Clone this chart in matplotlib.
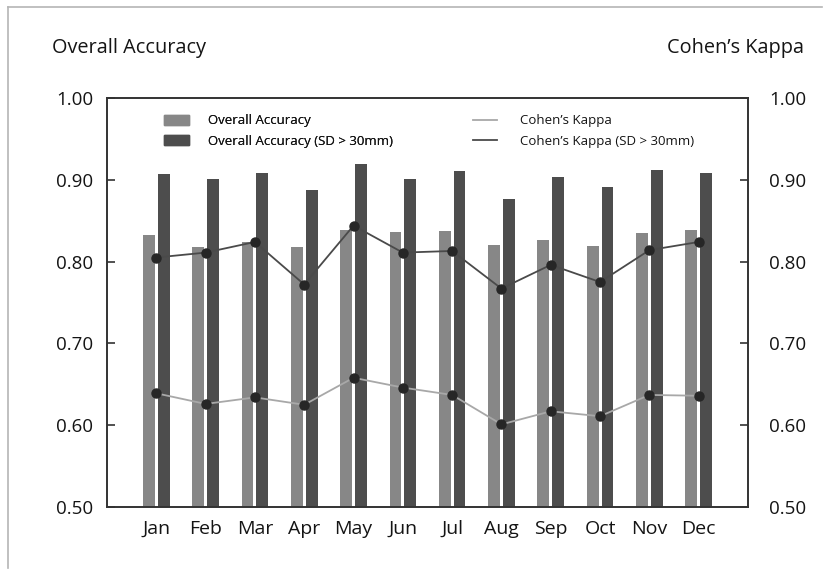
import matplotlib
matplotlib.use("Agg")
import matplotlib.pyplot as plt
from matplotlib.lines import Line2D
from matplotlib.patches import Patch
import numpy as np

plt.rcParams['font.family'] = ['Open Sans', 'DejaVu Sans']

months = ["Jan", "Feb", "Mar", "Apr", "May", "Jun",
          "Jul", "Aug", "Sep", "Oct", "Nov", "Dec"]
overall_acc = [0.832, 0.818, 0.824, 0.818, 0.839, 0.836,
               0.838, 0.820, 0.826, 0.819, 0.835, 0.839]
overall_acc_sd = [0.907, 0.901, 0.908, 0.888, 0.919, 0.901,
                  0.911, 0.877, 0.903, 0.891, 0.912, 0.908]
kappa = [0.639, 0.626, 0.634, 0.625, 0.658, 0.646,
         0.637, 0.601, 0.617, 0.611, 0.637, 0.636]
kappa_sd = [0.805, 0.811, 0.824, 0.772, 0.844, 0.811,
            0.813, 0.767, 0.796, 0.775, 0.814, 0.824]
y_ticks = [0.50, 0.60, 0.70, 0.80, 0.90, 1.00]

c_light_bar = "#878787"
c_dark_bar = "#4d4d4d"
c_light_line = "#a8a8a8"
c_dark_line = "#4a4a4a"
c_marker = "#262626"
c_spine = "#333333"
c_text = "#141414"

fig = plt.figure(figsize=(8.3, 5.7), dpi=100)
ax = fig.add_axes([0.1289, 0.1105, 0.7723, 0.7176])

x = np.arange(len(months))
w = 0.24
ax.bar(x - 0.15, overall_acc, width=w, color=c_light_bar, zorder=2)
ax.bar(x + 0.15, overall_acc_sd, width=w, color=c_dark_bar, zorder=2)

ax.set_xlim(-1.0, 12.0)
ax.set_ylim(0.5, 1.0)
ax.set_yticks(y_ticks)
ax.set_yticklabels([f"{v:.2f}" for v in y_ticks])
ax.set_xticks(x)
ax.set_xticklabels(months)
ax.tick_params(axis='x', length=0, pad=9, labelsize=14, colors=c_text)
ax.tick_params(axis='y', direction='in', length=6, width=1.2, pad=10,
               labelsize=13.5, colors=c_spine, labelcolor=c_text)
for s in ax.spines.values():
    s.set_color(c_spine)
    s.set_linewidth(1.2)

ax2 = ax.twinx()
ax2.set_ylim(0.5, 1.0)
ax2.set_yticks(y_ticks)
ax2.set_yticklabels([f"{v:.2f}" for v in y_ticks])
ax2.tick_params(axis='y', direction='in', length=6, width=1.2, pad=15,
                labelsize=13.5, colors=c_spine, labelcolor=c_text)
for s in ax2.spines.values():
    s.set_color(c_spine)
    s.set_linewidth(1.2)

ax2.plot(x, kappa, color=c_light_line, lw=1.3, marker='o', ms=6.5,
         mfc=c_marker, mec=c_marker, zorder=3)
ax2.plot(x, kappa_sd, color=c_dark_line, lw=1.3, marker='o', ms=6.5,
         mfc=c_marker, mec=c_marker, zorder=3)

fig.text(0.063, 0.916, "Overall Accuracy", fontsize=14.3, ha='left',
         va='center', color=c_text)
fig.text(0.969, 0.916, "Cohen\u2019s Kappa", fontsize=14.3, ha='right',
         va='center', color=c_text)

bar_handles = [Patch(color=c_light_bar), Patch(color=c_dark_bar)]
leg1 = ax.legend(bar_handles, ["Overall Accuracy", "Overall Accuracy (SD > 30mm)"],
                 loc='upper left', bbox_to_anchor=(0.089, 0.960), frameon=False,
                 fontsize=9.5, borderpad=0, borderaxespad=0, handlelength=1.9,
                 handleheight=0.8, handletextpad=1.45, labelspacing=0.55)
for t in leg1.get_texts():
    t.set_color(c_text)
ax.add_artist(leg1)

line_handles = [Line2D([], [], color=c_light_line, lw=1.3),
                Line2D([], [], color=c_dark_line, lw=1.3)]
leg2 = ax2.legend(line_handles, ["Cohen\u2019s Kappa", "Cohen\u2019s Kappa (SD > 30mm)"],
                  loc='upper left', bbox_to_anchor=(0.571, 0.960), frameon=False,
                  fontsize=9.5, borderpad=0, borderaxespad=0, handlelength=1.8,
                  handletextpad=1.75, labelspacing=0.55)
for t in leg2.get_texts():
    t.set_color(c_text)

# light frame along the top and left edges
fig.add_artist(Line2D([0.0096, 0.99], [0.9877, 0.9877], transform=fig.transFigure,
                      color="#b5b5b5", lw=1.2))
fig.add_artist(Line2D([0.0096, 0.0096], [0.003, 0.9877], transform=fig.transFigure,
                      color="#b5b5b5", lw=1.2))

fig.savefig("out.png", dpi=100, facecolor="white")
